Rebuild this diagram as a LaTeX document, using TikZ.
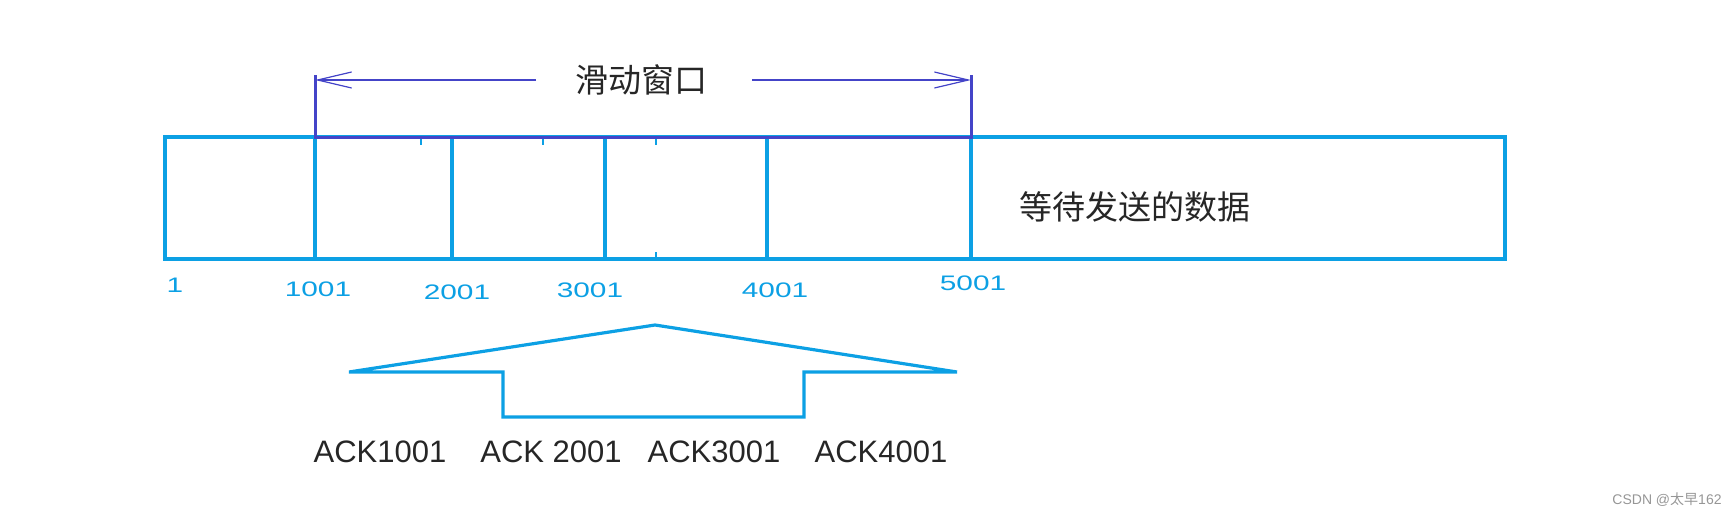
\documentclass[tikz,border=0pt]{standalone}
\usepackage{fontspec}
\setmainfont{Liberation Sans}
\newfontfamily\cjk{Noto Sans CJK SC}
\usetikzlibrary{arrows.meta}
\definecolor{cy}{RGB}{12,160,228}
\definecolor{pu}{RGB}{68,68,200}
\definecolor{wm}{RGB}{150,150,150}
\tikzset{
  box/.style={draw=cy, line width=3.2pt},
  brk/.style={draw=pu, line width=3pt},
  arr/.style={draw=pu, line width=1.2pt, -{Straight Barb[length=34pt,width=16pt]}},
  num/.style={text=cy, font=\fontsize{21}{23}\selectfont, xscale=1.42, inner sep=0pt},
  ack/.style={text=black!85, font=\fontsize{31}{33}\selectfont, inner sep=0pt},
  cjktxt/.style={text=black!85, font=\cjk\fontsize{33}{35}\selectfont, inner sep=0pt},
}
\begin{document}
\begin{tikzpicture}[x=1pt,y=-1pt]
\useasboundingbox (0,0) rectangle (1734,517);
% main strip
\draw[box] (165,137) rectangle (1505,259);
\foreach \xx in {315,452,605,767,971} \draw[box] (\xx,137) -- (\xx,259);
% small ticks
\foreach \xx in {421,543,656} \draw[draw=cy,line width=1.5pt] (\xx,137) -- (\xx,145);
\draw[draw=cy,line width=1.5pt] (656,259) -- (656,252);
% bracket
\coordinate (bl) at (315,75);
\coordinate (br) at (971,75);
\draw[brk] (bl) -- (315,137) -- (971,137) -- (br);
\node[cjktxt] (win) at (641,80) {滑动窗口};
\coordinate (al) at (315,80);
\coordinate (ar) at (971,80);
\draw[arr] (536,80) -- (al);
\draw[arr] (752,80) -- (ar);
% text
\node[cjktxt] (wait) at (1135,207) {等待发送的数据};
% numbers
\node[num] (n1) at (175,285) {1};
\node[num] (n2) at (318,289) {1001};
\node[num] (n3) at (457,292) {2001};
\node[num] (n4) at (590,290) {3001};
\node[num] (n5) at (775,290) {4001};
\node[num] (n6) at (973,283) {5001};
% big arrow
\draw[draw=cy, line width=3.2pt, line join=miter] (655,325) -- (957,372) -- (804,372) -- (804,417) -- (503,417) -- (503,372) -- (349,372) -- cycle;
% ACK labels
\node[ack] (a1) at (380,452) {ACK1001};
\node[ack] (a2) at (551,452) {ACK 2001};
\node[ack] (a3) at (714,452) {ACK3001};
\node[ack] (a4) at (881,452) {ACK4001};
% watermark
\node[text=wm, font=\fontsize{14}{16}\selectfont, inner sep=0pt] (wm) at (1667,500) {CSDN @{\cjk 太早}162};
\end{tikzpicture}
\end{document}
